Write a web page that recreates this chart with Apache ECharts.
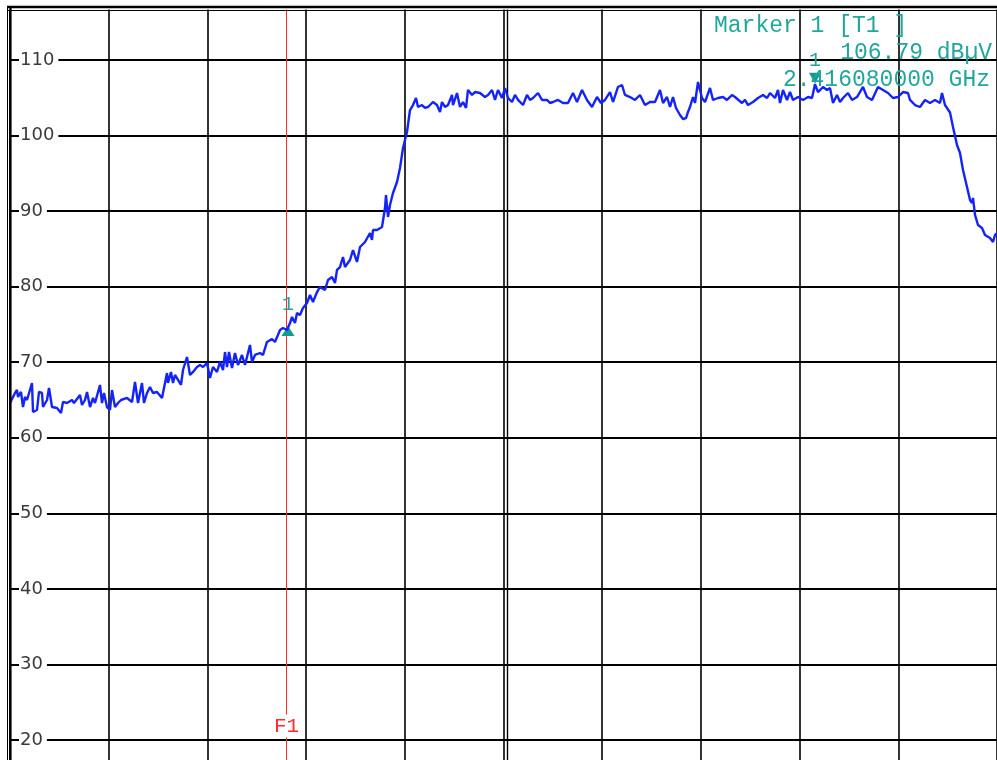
<!DOCTYPE html>
<html>
<head>
<meta charset="utf-8">
<script src="https://cdn.jsdelivr.net/npm/echarts@6/dist/echarts.min.js"></script>
<style>
html,body{margin:0;padding:0;background:#fff;}
#chart{width:997px;height:760px;}
</style>
</head>
<body>
<div id="chart"></div>
<script>
// Frequency offset from sweep start (MHz)
var freqOffsetMHz = [
0.00,0.20,0.28,0.32,0.44,0.52,0.60,0.68,0.88,0.92,1.08,1.16,1.28,1.32,1.48,1.56,1.68,1.88,2.04,2.12,
2.28,2.48,2.56,2.80,2.88,3.00,3.08,3.20,3.32,3.40,3.60,3.68,3.76,3.88,4.00,4.08,4.20,4.32,4.44,4.52,
4.68,4.88,5.00,5.12,5.28,5.36,5.48,5.60,5.72,5.88,6.08,6.16,6.28,6.32,6.44,6.52,6.60,6.72,6.84,6.92,
7.08,7.20,7.32,7.48,7.60,7.72,7.88,8.00,8.12,8.28,8.40,8.52,8.60,8.68,8.76,8.88,9.00,9.12,9.28,9.40,
9.60,9.68,9.80,10.00,10.12,10.28,10.48,10.60,10.80,10.92,11.08,11.20,11.28,11.40,11.48,11.60,11.72,11.88,12.00,12.12,
12.28,12.40,12.60,12.72,12.88,13.00,13.08,13.20,13.32,13.40,13.60,13.72,13.88,14.00,14.20,14.40,14.48,14.52,14.68,14.88,
15.00,15.04,15.12,15.20,15.32,15.48,15.60,15.72,15.88,16.00,16.12,16.24,16.32,16.48,16.60,16.72,16.92,17.08,17.20,17.28,
17.40,17.52,17.68,17.72,17.88,18.00,18.12,18.24,18.32,18.48,18.60,18.80,19.00,19.12,19.28,19.40,19.52,19.68,19.80,19.92,
20.08,20.20,20.32,20.52,20.68,20.80,20.92,21.12,21.28,21.48,21.60,21.72,21.92,22.12,22.32,22.52,22.68,22.88,23.08,23.28,
23.48,23.64,23.80,24.00,24.12,24.32,24.48,24.60,24.80,25.00,25.20,25.40,25.60,25.80,26.00,26.12,26.28,26.40,26.52,26.64,
26.80,26.92,27.04,27.12,27.20,27.32,27.40,27.52,27.68,27.80,28.00,28.12,28.32,28.52,28.68,28.88,29.00,29.28,29.40,29.52,
29.72,29.92,30.12,30.28,30.40,30.60,30.72,30.80,30.92,31.08,31.20,31.32,31.52,31.72,31.92,32.08,32.20,32.32,32.52,32.68,
32.80,32.92,33.08,33.20,33.32,33.52,33.68,33.88,34.12,34.28,34.48,34.72,34.92,35.12,35.32,35.52,35.72,35.92,36.00,36.20,
36.40,36.60,36.80,37.00,37.20,37.28,37.40,37.60,37.72,37.88,38.00,38.12,38.28,38.40,38.48,38.52,38.60,38.72,38.88,39.00,
39.20,39.32,39.40,39.48
];
// Level (dBµV)
var levelDbuV = [
64.60,65.93,66.32,65.40,66.06,64.07,65.40,65.00,67.25,63.41,63.68,66.06,65.93,64.07,65.00,66.59,64.07,63.94,63.28,64.74,
64.60,65.00,64.60,65.66,64.34,65.00,66.06,64.07,65.27,64.60,66.99,64.60,65.93,64.07,63.68,66.32,64.07,64.60,65.00,64.74,
65.27,64.74,67.38,64.60,67.25,64.60,65.93,66.72,65.93,66.06,65.27,65.27,68.57,67.25,68.71,67.25,68.31,67.65,66.99,68.97,
70.69,68.31,68.71,69.37,69.63,69.37,69.90,67.91,69.37,68.71,70.03,68.97,71.35,69.37,71.35,69.24,71.22,69.63,70.96,69.63,
72.28,70.03,70.96,71.22,70.96,72.68,73.07,72.68,74.27,74.53,74.27,75.19,75.99,75.19,76.52,76.25,77.18,77.84,78.90,77.97,
79.29,79.96,79.56,80.88,81.28,80.49,82.21,82.60,83.93,82.60,83.53,84.85,83.27,85.25,85.91,87.10,86.18,87.50,87.50,87.90,
90.41,92.13,89.22,90.81,92.40,93.85,95.71,98.35,100.47,103.38,104.04,104.97,103.78,104.04,103.65,103.78,104.44,104.04,103.12,104.44,
103.78,104.04,105.37,104.04,105.63,103.78,104.44,103.65,106.03,105.37,105.76,105.63,105.10,105.37,106.03,104.71,106.03,104.97,106.29,104.97,
104.44,105.37,104.71,104.04,105.37,104.71,104.97,105.63,104.71,104.71,104.31,104.44,104.71,104.31,104.31,105.63,104.44,106.03,104.71,103.78,
105.10,104.31,104.71,105.76,104.44,106.43,106.69,105.37,105.10,104.71,105.37,104.04,104.44,104.44,106.03,104.31,105.10,103.78,105.10,103.65,
102.72,102.19,102.32,103.12,103.78,105.10,104.31,107.09,104.97,104.44,106.29,104.71,104.97,105.10,104.71,105.37,105.10,104.31,104.71,104.04,
104.44,104.97,105.37,104.97,105.63,104.97,106.03,104.31,106.03,104.71,105.76,104.71,105.10,104.71,105.10,104.97,106.79,105.76,106.43,106.03,
106.29,104.31,105.37,104.44,104.97,105.63,104.71,105.10,106.43,105.10,104.71,106.43,106.03,105.63,104.97,105.10,105.76,105.63,104.71,104.04,
103.78,104.71,104.31,104.71,104.31,105.63,104.04,103.05,101.13,98.75,97.69,95.44,93.19,91.47,91.07,91.74,89.49,88.16,87.77,86.84,
86.44,85.91,86.84,87.10
];
var yTicks = [10,20,30,40,50,60,70,80,90,100,110,120];
var spanMHz = 39.48;
var divMHz = 3.948;
var f1Offset = 11.06;
var centerLine2 = 19.88;
var marker1 = [32.20, 106.79];
var f1Marker = [11.12, 74.14];
var markerTexts = ['Marker 1 [T1 ]', '106.79 dBµV', '2.416080000 GHz'];

var trace = freqOffsetMHz.map(function(f, i){ return [f, levelDbuV[i]]; });
var teal = '#21a69b';
var mono = '"Liberation Mono", "DejaVu Sans Mono", monospace';

var chart = echarts.init(document.getElementById('chart'));
chart.setOption({
  animation: false,
  backgroundColor: '#ffffff',
  grid: { left: 10, right: 0, top: -15.56, bottom: -55.56, containLabel: false, outerBoundsMode: 'none' },
  xAxis: {
    type: 'value', min: 0, max: spanMHz, interval: divMHz,
    axisLine: { show: false }, axisTick: { show: false }, axisLabel: { show: false },
    splitLine: { show: true, lineStyle: { color: '#000', width: 1.6 } }
  },
  yAxis: {
    type: 'value', min: yTicks[0], max: yTicks[yTicks.length - 1], interval: 10,
    axisLine: { show: true, lineStyle: { color: '#000', width: 2 } },
    axisTick: { show: false },
    axisLabel: {
      inside: true, margin: 9, color: '#3a3a3a',
      fontFamily: '"DejaVu Sans", sans-serif', fontSize: 18,
      backgroundColor: '#fff', padding: [1, 4, 1, 1]
    },
    splitLine: { show: true, lineStyle: { color: '#000', width: 1.8 } },
    z: 3
  },
  series: [{
    type: 'line',
    data: trace,
    showSymbol: false,
    symbol: 'none',
    lineStyle: { color: '#1424f8', width: 2.4 },
    z: 5,
    markLine: {
      silent: true, symbol: 'none', animation: false,
      label: { show: false },
      data: [
        { xAxis: centerLine2, lineStyle: { color: '#000', width: 1.4, type: 'solid' } },
        { xAxis: f1Offset, lineStyle: { color: '#ff2a2a', width: 1, type: 'solid' } }
      ]
    },
    markPoint: {
      silent: true, animation: false,
      data: [
        { coord: marker1, symbol: 'path://M0,0 L12,0 L6,11 Z', symbolSize: [12, 11], symbolOffset: [0, -6],
          itemStyle: { color: '#149b8f' },
          label: { show: true, position: 'top', distance: 2, formatter: '1', color: teal, fontFamily: mono, fontSize: 20 } },
        { coord: f1Marker, symbol: 'path://M6,0 L12,11 L0,11 Z', symbolSize: [13, 10],
          itemStyle: { color: '#149b8f' },
          label: { show: true, position: 'top', distance: 11, formatter: '1', color: teal, fontFamily: mono, fontSize: 20 } },
        { coord: [f1Offset, 21.85], symbol: 'rect', symbolSize: 0,
          label: { show: true, position: 'inside', formatter: 'F1', color: '#ff2a2a', fontFamily: mono, fontSize: 21,
                   backgroundColor: '#fff', padding: [1, 0, 1, 0] } }
      ]
    }
  }],
  graphic: [
    { type: 'rect', shape: { x: 0, y: 0, width: 997, height: 9.5 }, style: { fill: '#fff' }, z: 100 },
    { type: 'rect', shape: { x: 0, y: 0, width: 7, height: 760 }, style: { fill: '#fff' }, z: 100 },
    { type: 'line', shape: { x1: 7, y1: 7, x2: 997, y2: 7 }, style: { stroke: '#000', lineWidth: 2.5 }, z: 101 },
    { type: 'line', shape: { x1: 7, y1: 10.5, x2: 997, y2: 10.5 }, style: { stroke: '#000', lineWidth: 1 }, z: 101 },
    { type: 'line', shape: { x1: 7.5, y1: 6, x2: 7.5, y2: 760 }, style: { stroke: '#000', lineWidth: 1 }, z: 101 },
    { type: 'line', shape: { x1: 10.5, y1: 7, x2: 10.5, y2: 760 }, style: { stroke: '#000', lineWidth: 2.2 }, z: 101 },
    { type: 'text', left: 714, top: 14, z: 102, style: { text: markerTexts[0], fill: teal, font: '23px ' + mono } },
    { type: 'text', right: 5, top: 41, z: 102, style: { text: markerTexts[1], fill: teal, font: '23px ' + mono } },
    { type: 'text', right: 7, top: 68, z: 102, style: { text: markerTexts[2], fill: teal, font: '23px ' + mono } }
  ]
});
</script>
</body>
</html>
